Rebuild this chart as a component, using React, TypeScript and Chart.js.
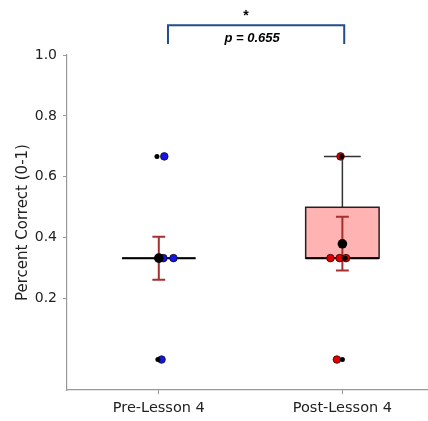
import React, { useEffect, useRef } from 'react';
import { Chart, registerables } from 'chart.js';

Chart.register(...registerables);

const categories = ['Pre-Lesson 4', 'Post-Lesson 4'];
const yTickValues = [0.2, 0.4, 0.6, 0.8, 1.0];

// jittered raw scores (coloured)
const preValues = [0.667, 0.333, 0.333, 0.333, 0.0];
const preJitter = [0.03, 0.01, 0.025, 0.08, 0.015];
const postValues = [0.667, 0.333, 0.333, 0.333, 0.0];
const postJitter = [-0.01, -0.065, -0.015, 0.02, -0.03];
// jittered raw scores (black)
const preBlackValues = [0.667, 0.333, 0.0];
const preBlackJitter = [-0.01, 0.0, -0.005];
const postBlackValues = [0.667, 0.333, 0.0];
const postBlackJitter = [-0.005, 0.015, 0.0];

// box statistics
const boxQ1 = [0.333, 0.333];
const boxQ3 = [0.333, 0.5];
const medians = [0.333, 0.333];
const whiskerLow = [0.333, 0.333];
const whiskerHigh = [0.333, 0.667];
// mean ± error
const means = [0.333, 0.38];
const errLow = [0.262, 0.292];
const errHigh = [0.403, 0.469];

// significance bracket
const bracketFrom = 0.05;
const bracketTo = 1.01;
const bracketTop = 1.098;
const bracketBottom = 1.036;
const starText = '*';
const pText = 'p = 0.655';

const pointColors = ['#1414e6', '#e00000'];
const boxFills = ['#b3b3ff', '#ffb3b3'];

const annotPlugin = {
  id: 'annot',
  beforeDatasetsDraw(chart: any) {
    const ctx = chart.ctx;
    const xs = chart.scales.x;
    const ys = chart.scales.y;
    const boxHalf = 0.2;
    const capHalf = 0.1;
    const errCap = 0.035;
    ctx.save();
    categories.forEach((_, i) => {
      const xl = xs.getPixelForValue(i - boxHalf);
      const xr = xs.getPixelForValue(i + boxHalf);
      const xc = xs.getPixelForValue(i);
      const yq1 = ys.getPixelForValue(boxQ1[i]);
      const yq3 = ys.getPixelForValue(boxQ3[i]);
      // whiskers
      ctx.strokeStyle = '#333';
      ctx.lineWidth = 1.5;
      if (whiskerHigh[i] > boxQ3[i]) {
        const yw = ys.getPixelForValue(whiskerHigh[i]);
        ctx.beginPath();
        ctx.moveTo(xc, yq3);
        ctx.lineTo(xc, yw);
        ctx.moveTo(xs.getPixelForValue(i - capHalf), yw);
        ctx.lineTo(xs.getPixelForValue(i + capHalf), yw);
        ctx.stroke();
      }
      if (whiskerLow[i] < boxQ1[i]) {
        const yw = ys.getPixelForValue(whiskerLow[i]);
        ctx.beginPath();
        ctx.moveTo(xc, yq1);
        ctx.lineTo(xc, yw);
        ctx.moveTo(xs.getPixelForValue(i - capHalf), yw);
        ctx.lineTo(xs.getPixelForValue(i + capHalf), yw);
        ctx.stroke();
      }
      // box
      ctx.fillStyle = boxFills[i];
      ctx.fillRect(xl, yq3, xr - xl, yq1 - yq3);
      ctx.strokeStyle = '#222';
      ctx.lineWidth = 1.5;
      ctx.strokeRect(xl, yq3, xr - xl, yq1 - yq3);
      // median
      const ym = ys.getPixelForValue(medians[i]);
      ctx.lineWidth = 2;
      ctx.strokeStyle = '#000';
      ctx.beginPath();
      ctx.moveTo(xl, ym);
      ctx.lineTo(xr, ym);
      ctx.stroke();
      // error bars
      ctx.strokeStyle = '#a53030';
      ctx.lineWidth = 2;
      const ylo = ys.getPixelForValue(errLow[i]);
      const yhi = ys.getPixelForValue(errHigh[i]);
      const cl = xs.getPixelForValue(i - errCap);
      const cr = xs.getPixelForValue(i + errCap);
      ctx.beginPath();
      ctx.moveTo(xc, ylo);
      ctx.lineTo(xc, yhi);
      ctx.moveTo(cl, ylo);
      ctx.lineTo(cr, ylo);
      ctx.moveTo(cl, yhi);
      ctx.lineTo(cr, yhi);
      ctx.stroke();
    });
    ctx.restore();
  },
  afterDraw(chart: any) {
    const ctx = chart.ctx;
    const xs = chart.scales.x;
    const ys = chart.scales.y;
    const x1 = xs.getPixelForValue(bracketFrom);
    const x2 = xs.getPixelForValue(bracketTo);
    const yt = ys.getPixelForValue(bracketTop);
    const yb = ys.getPixelForValue(bracketBottom);
    ctx.save();
    ctx.strokeStyle = '#1f4e8c';
    ctx.lineWidth = 2;
    ctx.beginPath();
    ctx.moveTo(x1, yb);
    ctx.lineTo(x1, yt);
    ctx.lineTo(x2, yt);
    ctx.lineTo(x2, yb);
    ctx.stroke();
    const xm = (x1 + x2) / 2;
    ctx.fillStyle = '#000';
    ctx.textAlign = 'center';
    ctx.textBaseline = 'middle';
    ctx.font = 'bold 14px "Liberation Sans"';
    ctx.fillText(starText, xm - 10, yt - 9);
    ctx.font = 'italic bold 13px "Liberation Sans"';
    ctx.fillText(pText, xm - 4, yt + 13);
    ctx.restore();
  },
};

function pts(vals: number[], jit: number[], idx: number) {
  return vals.map((v, k) => ({ x: idx + jit[k], y: v }));
}

export default function App() {
  const ref = useRef<HTMLCanvasElement>(null);
  useEffect(() => {
    if (!ref.current) return;
    Chart.defaults.font.family = 'DejaVu Sans';
    const chart = new Chart(ref.current, {
      type: 'scatter',
      data: {
        datasets: [
          {
            label: 'means',
            data: means.map((m, i) => ({ x: i, y: m })),
            pointRadius: 4.8,
            backgroundColor: '#000',
            borderColor: '#000',
            borderWidth: 0,
            order: 0,
          },
          {
            label: 'pre-black',
            data: pts(preBlackValues, preBlackJitter, 0),
            pointRadius: 2.5,
            backgroundColor: '#000',
            borderWidth: 0,
            order: 1,
          },
          {
            label: 'post-black',
            data: pts(postBlackValues, postBlackJitter, 1),
            pointRadius: 2.5,
            backgroundColor: '#000',
            borderWidth: 0,
            order: 1,
          },
          {
            label: 'pre',
            data: pts(preValues, preJitter, 0),
            pointRadius: 3.8,
            backgroundColor: pointColors[0],
            borderColor: '#111',
            borderWidth: 0.8,
            order: 2,
          },
          {
            label: 'post',
            data: pts(postValues, postJitter, 1),
            pointRadius: 3.8,
            backgroundColor: pointColors[1],
            borderColor: '#300',
            borderWidth: 0.8,
            order: 2,
          },
        ],
      },
      options: {
        responsive: false,
        animation: false,
        layout: { padding: { left: 0, right: 0, top: 55, bottom: 0 } },
        plugins: { legend: { display: false }, tooltip: { enabled: false } },
        scales: {
          x: {
            type: 'linear',
            min: -0.5,
            max: 1.462,
            afterBuildTicks: (s: any) => {
              s.ticks = categories.map((_, i) => ({ value: i }));
            },
            afterFit: (s: any) => {
              s.height = 31;
            },
            ticks: {
              callback: (v: any) => categories[Math.round(Number(v))],
              font: { size: 14.5 },
              color: '#222',
              padding: 6,
              maxRotation: 0,
            },
            grid: { drawOnChartArea: false, drawTicks: true, tickLength: 4, color: '#999' },
            border: { color: '#999', width: 1.2 },
          },
          y: {
            min: -0.1,
            max: 1.0,
            afterBuildTicks: (s: any) => {
              s.ticks = yTickValues.map((v) => ({ value: v }));
            },
            afterFit: (s: any) => {
              s.width = 67;
            },
            ticks: {
              callback: (v: any) => Number(v).toFixed(1),
              font: { size: 14 },
              color: '#222',
              padding: 6,
            },
            title: {
              display: true,
              text: 'Percent Correct (0-1)',
              font: { size: 15 },
              color: '#222',
              padding: { top: 14, bottom: 0 },
            },
            grid: { drawOnChartArea: false, drawTicks: true, tickLength: 4, color: '#999' },
            border: { color: '#999', width: 1.2 },
          },
        },
      },
      plugins: [annotPlugin],
    });
    return () => chart.destroy();
  }, []);
  return (
    <div style={{ position: 'absolute', left: 0, top: 0, width: 428, height: 421, overflow: 'hidden', background: '#fff' }}>
      <canvas ref={ref} width={432} height={421} />
    </div>
  );
}
